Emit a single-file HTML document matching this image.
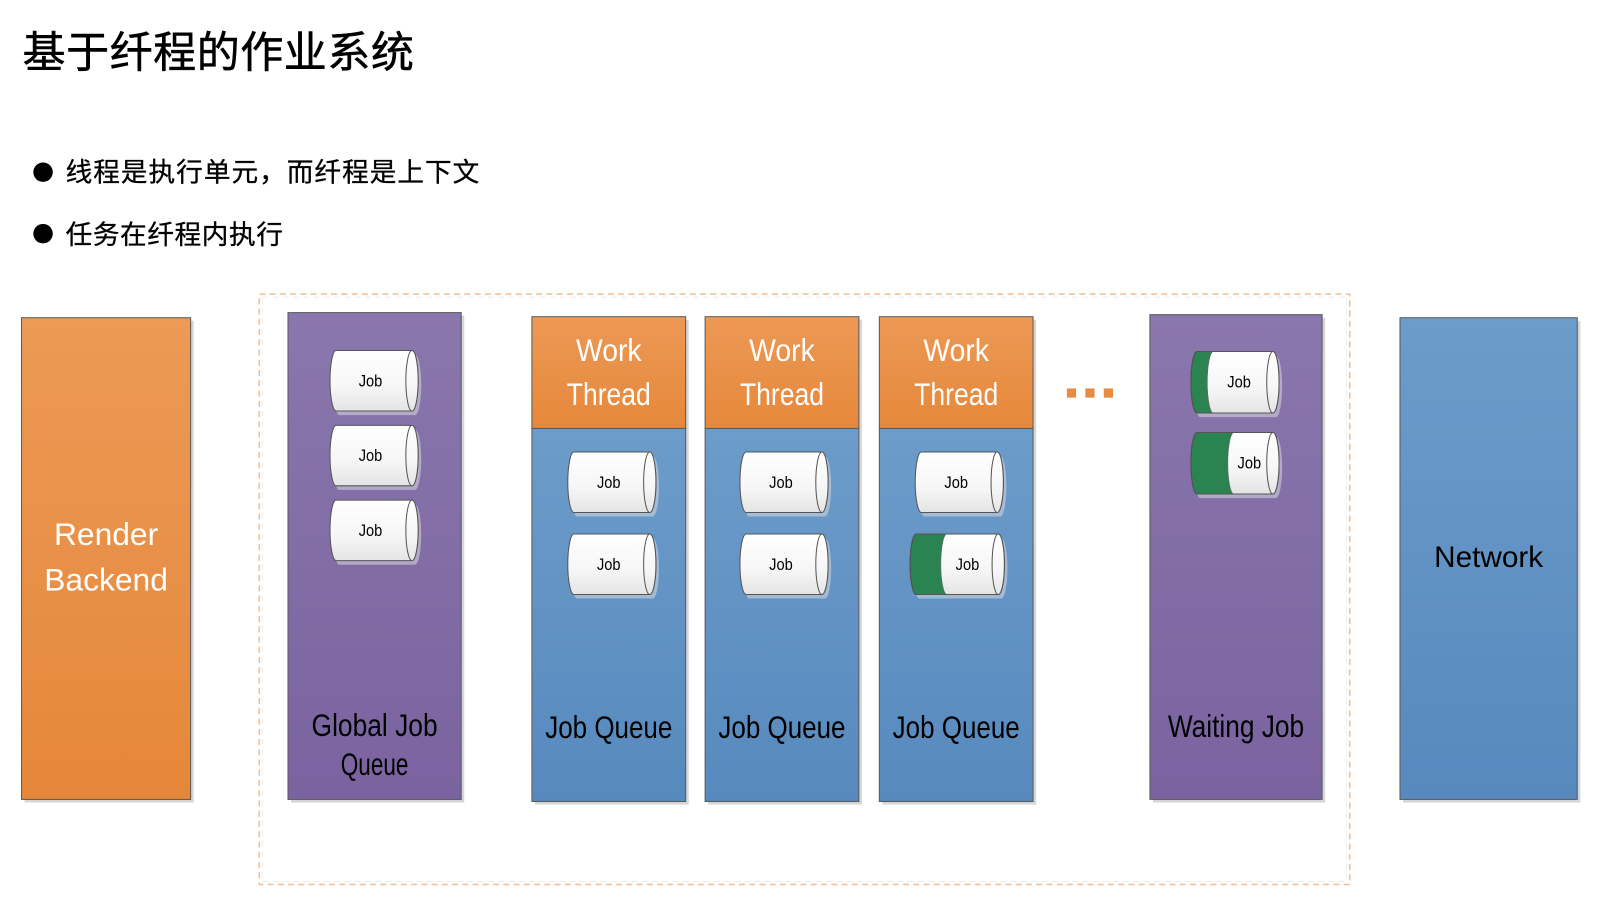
<!DOCTYPE html>
<html>
<head>
<meta charset="utf-8">
<style>
html,body{margin:0;padding:0;background:#fff;overflow:hidden;}
svg{display:block;}
</style>
</head>
<body>
<svg width="1607" height="905" viewBox="0 0 1568 883" preserveAspectRatio="none" xmlns="http://www.w3.org/2000/svg">
<defs>
  <linearGradient id="gOr" x1="0" y1="0" x2="0" y2="1">
    <stop offset="0" stop-color="#EC9A56"/>
    <stop offset="1" stop-color="#E5873A"/>
  </linearGradient>
  <linearGradient id="gOrH" x1="0" y1="0" x2="0" y2="1">
    <stop offset="0" stop-color="#EC9955"/>
    <stop offset="1" stop-color="#E6883B"/>
  </linearGradient>
  <linearGradient id="gPu" x1="0" y1="0" x2="0" y2="1">
    <stop offset="0" stop-color="#8A77AD"/>
    <stop offset="1" stop-color="#7A63A0"/>
  </linearGradient>
  <linearGradient id="gBl" x1="0" y1="0" x2="0" y2="1">
    <stop offset="0" stop-color="#6C9CC9"/>
    <stop offset="1" stop-color="#5789BE"/>
  </linearGradient>
  <linearGradient id="gCy" x1="0" y1="0" x2="0" y2="1">
    <stop offset="0" stop-color="#FFFFFF"/>
    <stop offset="0.6" stop-color="#F6F6F6"/>
    <stop offset="1" stop-color="#E4E4E4"/>
  </linearGradient>
  <g id="cyl">
    <path d="M9,4 H83 A6,29.5 0 0 1 83,63 H9 A6,29.5 0 0 1 9,4 Z" fill="#D8D8E0" fill-opacity="0.55"/>
    <path d="M6,0 H80 A6,29.5 0 0 1 80,59 H6 A6,29.5 0 0 1 6,0 Z" fill="url(#gCy)" stroke="#555" stroke-width="1"/>
    <ellipse cx="80" cy="29.5" rx="6" ry="29.5" fill="url(#gCy)" stroke="#555" stroke-width="1"/>
  </g>
</defs>

<!-- Title -->
<text x="22" y="66" font-family="'Liberation Sans','Noto Sans CJK SC',sans-serif" font-size="42" letter-spacing="0.5" fill="#000" stroke="#000" stroke-width="0.5">基于纤程的作业系统</text>

<!-- Bullets -->
<circle cx="42" cy="168" r="9.5" fill="#000"/>
<text x="64" y="177" font-family="'Liberation Sans','Noto Sans CJK SC',sans-serif" font-size="26" letter-spacing="1" fill="#000" stroke="#000" stroke-width="0.3">线程是执行单元，而纤程是上下文</text>
<circle cx="42" cy="228" r="9.5" fill="#000"/>
<text x="64" y="238" font-family="'Liberation Sans','Noto Sans CJK SC',sans-serif" font-size="26" letter-spacing="0.6" fill="#000" stroke="#000" stroke-width="0.3">任务在纤程内执行</text>

<!-- Dashed group border -->
<rect x="253" y="287" width="1064" height="576" fill="none" stroke="#F4BE92" stroke-width="1.5" stroke-dasharray="6,4"/>
<rect x="256" y="290" width="1058" height="570" fill="none" stroke="#EEEEEE" stroke-width="1" stroke-dasharray="6,4"/>

<!-- Box shadows -->
<g fill="#D6D6D6">
  <rect x="24" y="313" width="165" height="470"/>
  <rect x="284" y="308" width="169" height="475"/>
  <rect x="522" y="312" width="150" height="473"/>
  <rect x="691" y="312" width="150" height="473"/>
  <rect x="861" y="312" width="150" height="473"/>
  <rect x="1125" y="310" width="168" height="473"/>
  <rect x="1369" y="313" width="173" height="470"/>
</g>

<!-- Render Backend -->
<rect x="21" y="310" width="165" height="470" fill="url(#gOr)" stroke="#5A5A5A" stroke-width="1"/>
<text x="103.5" y="532" text-anchor="middle" font-family="'Liberation Sans',sans-serif" font-size="31" fill="#fff">Render</text>
<text x="103.5" y="576" text-anchor="middle" font-family="'Liberation Sans',sans-serif" font-size="31" fill="#fff">Backend</text>

<!-- Global Job Queue -->
<rect x="281" y="305" width="169" height="475" fill="url(#gPu)" stroke="#5A5A5A" stroke-width="1"/>
<text x="304" y="718" textLength="123" lengthAdjust="spacingAndGlyphs" font-family="'Liberation Sans',sans-serif" font-size="31" fill="#000">Global Job</text>
<text x="332.5" y="756" textLength="66" lengthAdjust="spacingAndGlyphs" font-family="'Liberation Sans',sans-serif" font-size="31" fill="#000">Queue</text>

<!-- Work Thread columns -->
<g>
  <rect x="519" y="418" width="150" height="364" fill="url(#gBl)" stroke="#5A5A5A" stroke-width="1"/>
  <rect x="519" y="309" width="150" height="109" fill="url(#gOrH)" stroke="#5A5A5A" stroke-width="1"/>
  <text x="562" y="352" textLength="64" lengthAdjust="spacingAndGlyphs" font-family="'Liberation Sans',sans-serif" font-size="31" fill="#fff">Work</text>
  <text x="553" y="395" textLength="82" lengthAdjust="spacingAndGlyphs" font-family="'Liberation Sans',sans-serif" font-size="31" fill="#fff">Thread</text>
  <text x="532" y="720" textLength="124" lengthAdjust="spacingAndGlyphs" font-family="'Liberation Sans',sans-serif" font-size="31" fill="#000">Job Queue</text>
</g>
<g>
  <rect x="688" y="418" width="150" height="364" fill="url(#gBl)" stroke="#5A5A5A" stroke-width="1"/>
  <rect x="688" y="309" width="150" height="109" fill="url(#gOrH)" stroke="#5A5A5A" stroke-width="1"/>
  <text x="731" y="352" textLength="64" lengthAdjust="spacingAndGlyphs" font-family="'Liberation Sans',sans-serif" font-size="31" fill="#fff">Work</text>
  <text x="722" y="395" textLength="82" lengthAdjust="spacingAndGlyphs" font-family="'Liberation Sans',sans-serif" font-size="31" fill="#fff">Thread</text>
  <text x="701" y="720" textLength="124" lengthAdjust="spacingAndGlyphs" font-family="'Liberation Sans',sans-serif" font-size="31" fill="#000">Job Queue</text>
</g>
<g>
  <rect x="858" y="418" width="150" height="364" fill="url(#gBl)" stroke="#5A5A5A" stroke-width="1"/>
  <rect x="858" y="309" width="150" height="109" fill="url(#gOrH)" stroke="#5A5A5A" stroke-width="1"/>
  <text x="901" y="352" textLength="64" lengthAdjust="spacingAndGlyphs" font-family="'Liberation Sans',sans-serif" font-size="31" fill="#fff">Work</text>
  <text x="892" y="395" textLength="82" lengthAdjust="spacingAndGlyphs" font-family="'Liberation Sans',sans-serif" font-size="31" fill="#fff">Thread</text>
  <text x="871" y="720" textLength="124" lengthAdjust="spacingAndGlyphs" font-family="'Liberation Sans',sans-serif" font-size="31" fill="#000">Job Queue</text>
</g>

<!-- Dots -->
<g fill="#E98B40">
  <rect x="1041" y="379" width="9" height="9"/>
  <rect x="1059" y="379" width="9" height="9"/>
  <rect x="1077" y="379" width="9" height="9"/>
</g>

<!-- Waiting Job -->
<rect x="1122" y="307" width="168" height="473" fill="url(#gPu)" stroke="#5A5A5A" stroke-width="1"/>
<text x="1139.5" y="719" textLength="133" lengthAdjust="spacingAndGlyphs" font-family="'Liberation Sans',sans-serif" font-size="31" fill="#000">Waiting Job</text>

<!-- Network -->
<rect x="1366" y="310" width="173" height="470" fill="url(#gBl)" stroke="#5A5A5A" stroke-width="1"/>
<text x="1452.5" y="553" text-anchor="middle" font-family="'Liberation Sans',sans-serif" font-size="29" fill="#000">Network</text>

<!-- Cylinders (standard) -->
<use href="#cyl" transform="translate(322,342)"/>
<use href="#cyl" transform="translate(322,415)"/>
<use href="#cyl" transform="translate(322,488)"/>
<use href="#cyl" transform="translate(554,441)"/>
<use href="#cyl" transform="translate(554,521)"/>
<use href="#cyl" transform="translate(722,441)"/>
<use href="#cyl" transform="translate(722,521)"/>
<use href="#cyl" transform="translate(893,441)"/>

<!-- Green job in WT3 -->
<g transform="translate(888,521)">
  <path d="M9,4 H89 A6,29.5 0 0 1 89,63 H9 A6,29.5 0 0 1 9,4 Z" fill="#D8D8E0" fill-opacity="0.55"/>
  <path d="M6,0 H86 A6,29.5 0 0 1 86,59 H6 A6,29.5 0 0 1 6,0 Z" fill="#2A8350" stroke="#444" stroke-width="1"/>
  <path d="M36,0 H86 A6,29.5 0 0 1 86,59 H36 A6,29.5 0 0 1 36,0 Z" fill="url(#gCy)" stroke="#666" stroke-width="0.6"/>
  <path d="M6,0 H86 A6,29.5 0 0 1 86,59 H6 A6,29.5 0 0 1 6,0 Z" fill="none" stroke="#555" stroke-width="1"/>
  <ellipse cx="86" cy="29.5" rx="6" ry="29.5" fill="url(#gCy)" stroke="#555" stroke-width="1"/>
</g>

<!-- Waiting green jobs -->
<g transform="translate(1162,343)">
  <path d="M9,4 H83 A6,30 0 0 1 83,64 H9 A6,30 0 0 1 9,4 Z" fill="#D8D8E0" fill-opacity="0.55"/>
  <path d="M6,0 H80 A6,30 0 0 1 80,60 H6 A6,30 0 0 1 6,0 Z" fill="#2A8350" stroke="#444" stroke-width="1"/>
  <path d="M22,0 H80 A6,30 0 0 1 80,60 H22 A6,30 0 0 1 22,0 Z" fill="url(#gCy)" stroke="#666" stroke-width="0.6"/>
  <path d="M6,0 H80 A6,30 0 0 1 80,60 H6 A6,30 0 0 1 6,0 Z" fill="none" stroke="#555" stroke-width="1"/>
  <ellipse cx="80" cy="30" rx="6" ry="30" fill="url(#gCy)" stroke="#555" stroke-width="1"/>
</g>
<g transform="translate(1162,422)">
  <path d="M9,4 H83 A6,30 0 0 1 83,64 H9 A6,30 0 0 1 9,4 Z" fill="#D8D8E0" fill-opacity="0.55"/>
  <path d="M6,0 H80 A6,30 0 0 1 80,60 H6 A6,30 0 0 1 6,0 Z" fill="#2A8350" stroke="#444" stroke-width="1"/>
  <path d="M42,0 H80 A6,30 0 0 1 80,60 H42 A6,30 0 0 1 42,0 Z" fill="url(#gCy)" stroke="#666" stroke-width="0.6"/>
  <path d="M6,0 H80 A6,30 0 0 1 80,60 H6 A6,30 0 0 1 6,0 Z" fill="none" stroke="#555" stroke-width="1"/>
  <ellipse cx="80" cy="30" rx="6" ry="30" fill="url(#gCy)" stroke="#555" stroke-width="1"/>
</g>

<!-- Job labels -->
<g font-family="'Liberation Sans',sans-serif" font-size="16" fill="#000" text-anchor="middle">
  <text x="361.5" y="377" textLength="23" lengthAdjust="spacingAndGlyphs">Job</text>
  <text x="361.5" y="450" textLength="23" lengthAdjust="spacingAndGlyphs">Job</text>
  <text x="361.5" y="523" textLength="23" lengthAdjust="spacingAndGlyphs">Job</text>
  <text x="594" y="476" textLength="23" lengthAdjust="spacingAndGlyphs">Job</text>
  <text x="594" y="556" textLength="23" lengthAdjust="spacingAndGlyphs">Job</text>
  <text x="762" y="476" textLength="23" lengthAdjust="spacingAndGlyphs">Job</text>
  <text x="762" y="556" textLength="23" lengthAdjust="spacingAndGlyphs">Job</text>
  <text x="933" y="476" textLength="23" lengthAdjust="spacingAndGlyphs">Job</text>
  <text x="944" y="556" textLength="23" lengthAdjust="spacingAndGlyphs">Job</text>
  <text x="1209" y="378" textLength="23" lengthAdjust="spacingAndGlyphs">Job</text>
  <text x="1219" y="457" textLength="23" lengthAdjust="spacingAndGlyphs">Job</text>
</g>
</svg>
</body>
</html>
